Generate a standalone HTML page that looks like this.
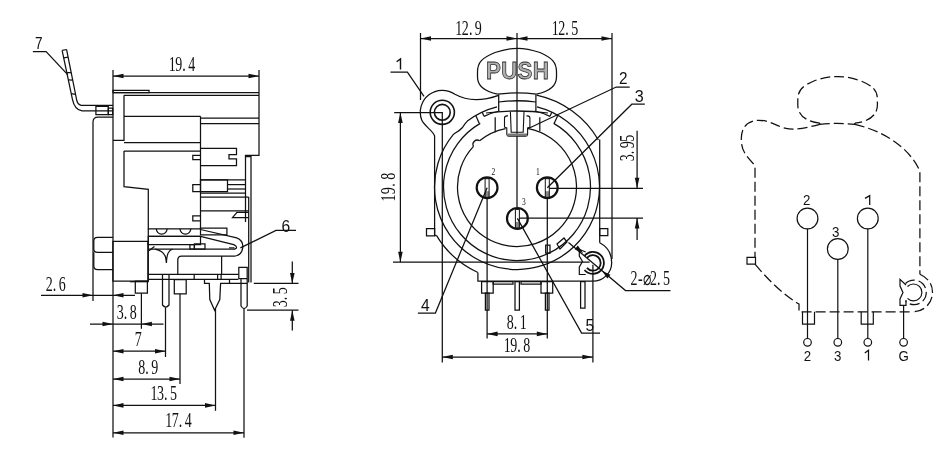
<!DOCTYPE html>
<html><head><meta charset="utf-8"><style>
html,body{margin:0;padding:0;background:#fff;width:942px;height:463px;overflow:hidden}
svg{display:block;will-change:transform}
</style></head><body>
<svg width="942" height="463" viewBox="0 0 942 463">
<rect width="942" height="463" fill="#fff"/>
<g fill="none" stroke="#111" stroke-width="1.25" stroke-linecap="butt" stroke-linejoin="miter">
<path d="M113 70 L113 90"/>
<path d="M259 70 L259 92"/>
<path d="M113 76 L259 76"/>
<path d="M113.00 76.00 L123.50 73.70 L123.50 78.30 Z" fill="#111" stroke="none"/>
<path d="M259.00 76.00 L248.50 78.30 L248.50 73.70 Z" fill="#111" stroke="none"/>
<g transform="translate(169 70.5)">
<text transform="translate(3.25 0) scale(0.7 1)" font-family="Liberation Serif" font-size="20" text-anchor="middle" fill="#111" stroke="none">1</text>
<text transform="translate(9.75 0) scale(0.7 1)" font-family="Liberation Serif" font-size="20" text-anchor="middle" fill="#111" stroke="none">9</text>
<text transform="translate(13.30 0) scale(0.7 1)" font-family="Liberation Serif" font-size="20" text-anchor="start" fill="#111" stroke="none">.</text>
<text transform="translate(22.75 0) scale(0.7 1)" font-family="Liberation Serif" font-size="20" text-anchor="middle" fill="#111" stroke="none">4</text>
</g>
<path d="M62.1 50.4 L72.5 99.6 Q74.5 109.5 82 110.9 H113"/>
<path d="M66.6 49.6 L76.8 100.5 Q77.8 104.5 81.1 105.3 H113"/>
<path d="M62.2 50.3 L66.8 49.5"/>
<path d="M63.66 57.78 L68.13 57.235"/>
<path d="M66.78 72.54 L71.19 72.505"/>
<path d="M68.34 79.92 L72.72 80.14"/>
<path d="M71.252 93.696 L75.576 94.392"/>
<path d="M95.9 106.3 H108.3 V114.6 H95.9 Z"/>
<path d="M108.3 108 H112.7 V114.6 H108.3 Z"/>
<path d="M32.9 51.6 L46.1 51.6 L67.9 74.9"/>
<text transform="translate(35 49) scale(0.85 1)" font-family="Liberation Sans" font-size="16" text-anchor="start" letter-spacing="0" font-weight="normal" fill="#111" stroke="none">7</text>
<path d="M113 90.3 H149 V92.5 H113 Z"/>
<path d="M113 92.5 L259 92.5"/>
<path d="M124 95.3 L259 95.3"/>
<path d="M113 90 L113 437.6"/>
<path d="M259 92 L259 155.3 L245.5 155.3 L245.5 222"/>
<path d="M245.5 156.7 L251 156.7 L251 282.5"/>
<path d="M248.7 197 L248.7 282.5"/>
<path d="M113 117 H98 Q93 117 93 122 V301"/>
<path d="M124 95.3 L124 140.3 L113 140.3"/>
<path d="M124 116.3 L200.5 116.3"/>
<path d="M124 142.5 L200.5 142.5"/>
<path d="M124 151 L200.5 151"/>
<path d="M200.5 116.3 L200.5 229"/>
<path d="M200.5 118 L259 118"/>
<path d="M200.5 123.7 L259 123.7"/>
<path d="M200.5 148.3 L236.5 148.3 L236.5 154.6 L229 154.6 L229 158.8 L236.5 158.8 L236.5 165.6 L200.5 165.6"/>
<path d="M200.5 155.3 L192.8 155.3 L192.8 159.5 L200.5 159.5"/>
<path d="M200.5 184.6 L192.8 184.6 L192.8 191.7 L200.5 191.7"/>
<path d="M200.5 215.9 L192.8 215.9 L192.8 220.8 L200.5 220.8"/>
<path d="M200.5 179.8 L245.5 179.8"/>
<path d="M200.5 179.8 H227.5 V191.6 H200.5 Z"/>
<path d="M227.5 184.6 L245.5 184.6"/>
<path d="M227.5 189 L245.5 189"/>
<path d="M200.5 193.2 L245.5 193.2"/>
<path d="M200.5 197 L248.7 197"/>
<path d="M200.5 210.9 L248.7 210.9"/>
<path d="M248.7 212.4 L237 212.4 L232.5 217.7 L248.7 217.7"/>
<path d="M124 151 L124 186.7 L148.3 189.3 L148.3 228.8 L200.5 228.8"/>
<path d="M156.3 228.8 A5.4 5.4 0 0 0 167.1 228.8"/>
<path d="M180 228.8 A5.4 5.4 0 0 0 190.8 228.8"/>
<path d="M148.3 236.4 L200.5 236.4"/>
<path d="M148.3 228.8 L148.3 281.7"/>
<path d="M113 237.4 H97.5 Q93.8 237.4 93.8 241 V249 Q93.8 252.3 97.5 252.3 H113"/>
<path d="M93.8 252.3 V266 Q93.8 269.6 97.5 269.6 H113"/>
<path d="M112.9 241.4 H147.9 V281.2 H112.9 Z"/>
<path d="M135.3 281.2 H147.4 V293.2 H135.3 Z"/>
<path d="M148.3 236.3 H200.5 V244.6 H148.3 Z"/>
<path d="M189.9 244.6 H194.4 V249.2 H189.9 Z"/>
<path d="M194.4 243.9 H205 V249.2 H194.4 Z"/>
<path d="M149 249.2 L233 249.2"/>
<path d="M200.5 229.5 L236.7 237.8 Q243.5 240.5 242.8 247.7 Q241.5 255.5 235.2 256 H181.5 Q177.8 256 177.8 260 V274.2"/>
<path d="M200.5 236.3 L233.7 244.6 Q237.5 246.5 236.2 248.3 Q235 249.5 233 249.2"/>
<rect x="229" y="247" width="5.5" height="2.5" fill="#555" stroke="none"/>
<path d="M200.5 228 H226.9 V234.8 H200.5 Z"/>
<path d="M155.1 249.2 Q163.5 251 165.5 257 Q166.3 261 166.4 263 Q166.8 255 168.5 252.5 Q170 250 172.5 249.2"/>
<path d="M149 250.8 L154.4 246.5"/>
<path d="M221.6 256 L221.6 274.2"/>
<path d="M148.5 274.4 L238.4 274.4"/>
<path d="M148.5 279.3 L238.4 279.3"/>
<path d="M194.2 274.4 L194.2 279.3"/>
<path d="M217.6 274.4 L217.6 279.3"/>
<path d="M221.1 274.4 L221.1 279.3"/>
<path d="M162.5 274.2 V305 Q165.8 309 169 305 V274.2"/>
<path d="M174.3 279.5 H186.2 V293.8 H174.3 Z"/>
<path d="M204.5 279.3 V283.4 H209.3 L209.8 299.5 L214.6 310.2 L219.8 299.5 L220.6 283.4 H247.3 M229.5 279.3 V283.4"/>
<path d="M238.8 267.4 H247.2 V278.7 H238.8 Z"/>
<path d="M241 278.7 V306 Q244 311 247.2 306 V278.7"/>
<path d="M130 281.7 L148.5 281.7"/>
<path d="M141.4 293.2 L141.4 328.8"/>
<path d="M41 295.3 L135 295.3"/>
<path d="M93.00 295.30 L82.50 297.60 L82.50 293.00 Z" fill="#111" stroke="none"/>
<path d="M113.00 295.30 L123.50 293.00 L123.50 297.60 Z" fill="#111" stroke="none"/>
<g transform="translate(46 291)">
<text transform="translate(3.25 0) scale(0.7 1)" font-family="Liberation Serif" font-size="20" text-anchor="middle" fill="#111" stroke="none">2</text>
<text transform="translate(6.80 0) scale(0.7 1)" font-family="Liberation Serif" font-size="20" text-anchor="start" fill="#111" stroke="none">.</text>
<text transform="translate(16.25 0) scale(0.7 1)" font-family="Liberation Serif" font-size="20" text-anchor="middle" fill="#111" stroke="none">6</text>
</g>
<path d="M90 324 L163.5 324"/>
<path d="M113.00 324.00 L102.50 326.30 L102.50 321.70 Z" fill="#111" stroke="none"/>
<path d="M141.40 324.00 L151.90 321.70 L151.90 326.30 Z" fill="#111" stroke="none"/>
<g transform="translate(117 319)">
<text transform="translate(3.25 0) scale(0.7 1)" font-family="Liberation Serif" font-size="20" text-anchor="middle" fill="#111" stroke="none">3</text>
<text transform="translate(6.80 0) scale(0.7 1)" font-family="Liberation Serif" font-size="20" text-anchor="start" fill="#111" stroke="none">.</text>
<text transform="translate(16.25 0) scale(0.7 1)" font-family="Liberation Serif" font-size="20" text-anchor="middle" fill="#111" stroke="none">8</text>
</g>
<path d="M165.5 307.5 L165.5 357"/>
<path d="M113 351.2 L165.5 351.2"/>
<path d="M113.00 351.20 L123.50 348.90 L123.50 353.50 Z" fill="#111" stroke="none"/>
<path d="M165.50 351.20 L155.00 353.50 L155.00 348.90 Z" fill="#111" stroke="none"/>
<g transform="translate(135 346.2)">
<text transform="translate(3.25 0) scale(0.7 1)" font-family="Liberation Serif" font-size="20" text-anchor="middle" fill="#111" stroke="none">7</text>
</g>
<path d="M180 293.8 L180 384"/>
<path d="M113 379 L180 379"/>
<path d="M113.00 379.00 L123.50 376.70 L123.50 381.30 Z" fill="#111" stroke="none"/>
<path d="M180.00 379.00 L169.50 381.30 L169.50 376.70 Z" fill="#111" stroke="none"/>
<g transform="translate(138.5 374.2)">
<text transform="translate(3.25 0) scale(0.7 1)" font-family="Liberation Serif" font-size="20" text-anchor="middle" fill="#111" stroke="none">8</text>
<text transform="translate(6.80 0) scale(0.7 1)" font-family="Liberation Serif" font-size="20" text-anchor="start" fill="#111" stroke="none">.</text>
<text transform="translate(16.25 0) scale(0.7 1)" font-family="Liberation Serif" font-size="20" text-anchor="middle" fill="#111" stroke="none">9</text>
</g>
<path d="M215.5 309 L215.5 410.8"/>
<path d="M113 405.4 L215.5 405.4"/>
<path d="M113.00 405.40 L123.50 403.10 L123.50 407.70 Z" fill="#111" stroke="none"/>
<path d="M215.50 405.40 L205.00 407.70 L205.00 403.10 Z" fill="#111" stroke="none"/>
<g transform="translate(150.8 400.3)">
<text transform="translate(3.25 0) scale(0.7 1)" font-family="Liberation Serif" font-size="20" text-anchor="middle" fill="#111" stroke="none">1</text>
<text transform="translate(9.75 0) scale(0.7 1)" font-family="Liberation Serif" font-size="20" text-anchor="middle" fill="#111" stroke="none">3</text>
<text transform="translate(13.30 0) scale(0.7 1)" font-family="Liberation Serif" font-size="20" text-anchor="start" fill="#111" stroke="none">.</text>
<text transform="translate(22.75 0) scale(0.7 1)" font-family="Liberation Serif" font-size="20" text-anchor="middle" fill="#111" stroke="none">5</text>
</g>
<path d="M244 309 L244 437.7"/>
<path d="M113 432.8 L244 432.8"/>
<path d="M113.00 432.80 L123.50 430.50 L123.50 435.10 Z" fill="#111" stroke="none"/>
<path d="M244.00 432.80 L233.50 435.10 L233.50 430.50 Z" fill="#111" stroke="none"/>
<g transform="translate(165.4 427.4)">
<text transform="translate(3.25 0) scale(0.7 1)" font-family="Liberation Serif" font-size="20" text-anchor="middle" fill="#111" stroke="none">1</text>
<text transform="translate(9.75 0) scale(0.7 1)" font-family="Liberation Serif" font-size="20" text-anchor="middle" fill="#111" stroke="none">7</text>
<text transform="translate(13.30 0) scale(0.7 1)" font-family="Liberation Serif" font-size="20" text-anchor="start" fill="#111" stroke="none">.</text>
<text transform="translate(22.75 0) scale(0.7 1)" font-family="Liberation Serif" font-size="20" text-anchor="middle" fill="#111" stroke="none">4</text>
</g>
<path d="M253.8 283.4 L298.5 283.4"/>
<path d="M247 310.2 L298.5 310.2"/>
<path d="M292.3 261.5 L292.3 283.4"/>
<path d="M292.30 283.40 L290.00 272.90 L294.60 272.90 Z" fill="#111" stroke="none"/>
<path d="M292.3 310.2 L292.3 330.6"/>
<path d="M292.30 310.20 L294.60 320.70 L290.00 320.70 Z" fill="#111" stroke="none"/>
<g transform="translate(287 307) rotate(-90)">
<text transform="translate(3.25 0) scale(0.7 1)" font-family="Liberation Serif" font-size="20" text-anchor="middle" fill="#111" stroke="none">3</text>
<text transform="translate(6.80 0) scale(0.7 1)" font-family="Liberation Serif" font-size="20" text-anchor="start" fill="#111" stroke="none">.</text>
<text transform="translate(16.25 0) scale(0.7 1)" font-family="Liberation Serif" font-size="20" text-anchor="middle" fill="#111" stroke="none">5</text>
</g>
<path d="M296 230.4 L276 230.4 L240.4 247.9"/>
<text transform="translate(281.5 231.5) scale(0.92 1)" font-family="Liberation Sans" font-size="17" text-anchor="start" letter-spacing="0" font-weight="normal" fill="#111" stroke="none">6</text>
<path d="M420.5 33 L420.5 100"/>
<path d="M517 33 L517 207"/>
<path d="M612 33 L612 259"/>
<path d="M420.5 38.5 L612 38.5"/>
<path d="M420.50 38.50 L431.00 36.20 L431.00 40.80 Z" fill="#111" stroke="none"/>
<path d="M517.00 38.50 L506.50 40.80 L506.50 36.20 Z" fill="#111" stroke="none"/>
<path d="M517.00 38.50 L527.50 36.20 L527.50 40.80 Z" fill="#111" stroke="none"/>
<path d="M612.00 38.50 L601.50 40.80 L601.50 36.20 Z" fill="#111" stroke="none"/>
<g transform="translate(455.6 34.5)">
<text transform="translate(3.25 0) scale(0.7 1)" font-family="Liberation Serif" font-size="20" text-anchor="middle" fill="#111" stroke="none">1</text>
<text transform="translate(9.75 0) scale(0.7 1)" font-family="Liberation Serif" font-size="20" text-anchor="middle" fill="#111" stroke="none">2</text>
<text transform="translate(13.30 0) scale(0.7 1)" font-family="Liberation Serif" font-size="20" text-anchor="start" fill="#111" stroke="none">.</text>
<text transform="translate(22.75 0) scale(0.7 1)" font-family="Liberation Serif" font-size="20" text-anchor="middle" fill="#111" stroke="none">9</text>
</g>
<g transform="translate(552 34.5)">
<text transform="translate(3.25 0) scale(0.7 1)" font-family="Liberation Serif" font-size="20" text-anchor="middle" fill="#111" stroke="none">1</text>
<text transform="translate(9.75 0) scale(0.7 1)" font-family="Liberation Serif" font-size="20" text-anchor="middle" fill="#111" stroke="none">2</text>
<text transform="translate(13.30 0) scale(0.7 1)" font-family="Liberation Serif" font-size="20" text-anchor="start" fill="#111" stroke="none">.</text>
<text transform="translate(22.75 0) scale(0.7 1)" font-family="Liberation Serif" font-size="20" text-anchor="middle" fill="#111" stroke="none">5</text>
</g>
<path d="M497.6 94.2 C487 92 477.5 87 477.5 77 V72 C477.5 62 482 58 495 52.5 C505 49.2 511 48.3 517.6 48.3 C524 48.3 530 49.2 540 52.5 C552 58 556.5 62 556.5 72 V77 C556.5 87 547 92 536.4 94.2"/>
<text transform="translate(486 79) scale(0.95 1)" font-family="Liberation Sans" font-size="23.5" font-weight="bold" fill="#b0b0b0" stroke="#2a2a2a" stroke-width="0.75" letter-spacing="0.3">PUSH</text>
<path d="M498.7 94.5 L498.7 111.2"/>
<path d="M535.9 94.5 L535.9 111.2"/>
<path d="M497.6 94.2 Q517 91.5 536.4 94.2"/>
<path d="M498.7 102 Q517 99.5 535.9 102"/>
<path d="M486 113 Q517 109 548 113"/>
<path d="M434.6 235.7 V136 C433.5 131 424 126 421.63 119.82 A22 22 0 0 1 454.92 94.28 C467 101 481 101.5 498.6 95.3"/>
<circle cx="442.3" cy="112.3" r="7.9" stroke-width="1.6"/>
<circle cx="442.3" cy="112.3" r="12.1" stroke-width="1.6"/>
<path d="M394.2 112.5 L442.3 112.5 L442.3 362.5"/>
<path d="M390.5 72.1 L407.4 72.1 L424 96.3"/>
<path d="M396.6 61.699999999999996 L400.5 58.9 V69.5" stroke-width="1.4"/>
<path d="M536.96 106.95 A82.5 82.5 0 1 1 453.80 133.97"/>
<path d="M453.8 134 Q459.5 131 462.5 127.5 Q464.5 124 467.35 121.11 A82.5 82.5 0 0 1 497.04 106.95"/>
<path d="M536.54 95.05 A94 94 0 0 1 598.41 140.00"/>
<path d="M599.7 139.5 L599.7 242.8"/>
<path d="M553.75 123.35 A73.5 73.5 0 1 1 480.25 123.35"/>
<path d="M484.04 116.31 A78 78 0 0 1 499.45 111.00"/>
<path d="M534.55 111.00 A78 78 0 0 1 549.96 116.31"/>
<path d="M484.036 116.308 L482.134 112.23"/>
<path d="M549.964 116.308 L551.866 112.23"/>
<path d="M475.9 115.7 L479.2 123.2"/>
<path d="M557.9 115.3 L554 123.7"/>
<path d="M528.35 128.59 A59.5 59.5 0 1 1 473.48 146.42"/>
<path d="M479.56 140.76 A59.5 59.5 0 0 1 505.65 128.59"/>
<path d="M495.2 117.2 L495.2 132.2"/>
<path d="M539.8 117.2 L539.8 131.2"/>
<path d="M473.48 146.42 A4.3 4.3 0 0 1 479.56 140.76"/>
<path d="M504.5 127.2 V118 Q504.5 115.9 507 115.9 H508 M526.5 115.9 H527.5 Q529.9 115.9 529.9 118 V127.2" stroke-width="1.1"/>
<path d="M504.5 127.2 L506.8 128 V134.5 Q507 136.3 509 136.3 H525.4 Q527.4 136.3 527.6 134.5 V128 L529.9 127.2" stroke-width="1.1"/>
<path d="M510.4 111.8 L511.2 132.2 H523.2 L524 111.8" stroke-width="1.1"/>
<rect x="507.5" y="133.5" width="19.5" height="2.6" fill="#777" stroke="none"/>
<path d="M426.5 228.5 H434.6 V235.8 H426.5 Z"/>
<path d="M599.7 228.5 H607.8 V235.6 H599.7 Z"/>
<path d="M477.87 272.47 A94 94 0 0 1 436.43 235.41"/>
<path d="M434.6 235.7 L436.43 235.41"/>
<path d="M477.9 272.5 L477.9 281.2 L592.9 281.2"/>
<path d="M599.7 242.8 Q611.7 249 611.7 262.9 A18.8 18.8 0 0 1 592.9 281.2"/>
<path d="M586.9 257.9 A7.8 7.8 0 1 1 586.9 267.9" stroke-width="1.8"/>
<path d="M584.5 255.8 A11 11 0 1 1 584.5 270" stroke-width="1.8"/>
<path d="M585.7 252 L579.3 249.3 V256 L582.5 261.5 L579.3 267 V274.5 H585.7" stroke-width="1.2"/>
<path d="M545.7 245 H550 V253 H545.7 Z"/>
<path d="M557 244 L564 238 L567 242 L560 249 Z"/>
<circle cx="487.1" cy="187.7" r="10.4" stroke-width="2.2"/>
<circle cx="547.3" cy="187.7" r="10.4" stroke-width="2.2"/>
<circle cx="517.4" cy="218.4" r="10.4" stroke-width="2.2"/>
<rect x="485.10" y="191.20" width="4" height="5.5" fill="#888" stroke="none"/>
<path d="M485.1 178.7 H489.1 V197.2 H485.1 Z" stroke-width="1.0"/>
<rect x="545.30" y="191.20" width="4" height="5.5" fill="#888" stroke="none"/>
<path d="M545.3 178.7 H549.3 V197.2 H545.3 Z" stroke-width="1.0"/>
<rect x="515.40" y="221.90" width="4" height="5.5" fill="#888" stroke="none"/>
<path d="M515.4 209.4 H519.4 V227.9 H515.4 Z" stroke-width="1.0"/>
<text transform="translate(491.6 175.2) scale(0.75 1)" font-family="Liberation Serif" font-size="10" text-anchor="start" letter-spacing="0" font-weight="normal" fill="#111" stroke="none">2</text>
<text transform="translate(536 175.2) scale(0.75 1)" font-family="Liberation Serif" font-size="10" text-anchor="start" letter-spacing="0" font-weight="normal" fill="#111" stroke="none">1</text>
<text transform="translate(522 205.3) scale(0.75 1)" font-family="Liberation Serif" font-size="10" text-anchor="start" letter-spacing="0" font-weight="normal" fill="#111" stroke="none">3</text>
<path d="M487.1 198 L487.1 338.5"/>
<path d="M547.3 198 L547.3 338.5"/>
<path d="M549.4 188.3 L643 188.3"/>
<path d="M519.5 218.2 L643 218.2"/>
<path d="M592.9 264.8 L592.9 362.5"/>
<path d="M393 262.2 L589.6 262.2"/>
<path d="M481.6 281.6 H493.2 V293.2 H481.6 Z"/>
<path d="M541 281.6 H552.7 V293.2 H541 Z"/>
<path d="M485.4 293.2 H489 V310 H485.4 Z"/>
<path d="M545.4 293.2 H549 V310 H545.4 Z"/>
<path d="M515 281.6 H519.4 V310 H515 Z"/>
<path d="M580.6 281.6 H585 V308 H580.6 Z"/>
<path d="M493.2 281.6 H513 V284 H493.2 Z"/>
<path d="M521 281.6 H541 V284 H521 Z"/>
<path d="M400.4 112.5 L400.4 262.2"/>
<path d="M400.40 112.50 L402.70 123.00 L398.10 123.00 Z" fill="#111" stroke="none"/>
<path d="M400.40 262.20 L398.10 251.70 L402.70 251.70 Z" fill="#111" stroke="none"/>
<g transform="translate(395.3 201.5) rotate(-90)">
<text transform="translate(3.60 0) scale(0.7 1)" font-family="Liberation Serif" font-size="20" text-anchor="middle" fill="#111" stroke="none">1</text>
<text transform="translate(10.80 0) scale(0.7 1)" font-family="Liberation Serif" font-size="20" text-anchor="middle" fill="#111" stroke="none">9</text>
<text transform="translate(14.70 0) scale(0.7 1)" font-family="Liberation Serif" font-size="20" text-anchor="start" fill="#111" stroke="none">.</text>
<text transform="translate(25.20 0) scale(0.7 1)" font-family="Liberation Serif" font-size="20" text-anchor="middle" fill="#111" stroke="none">8</text>
</g>
<path d="M637.1 130.7 L637.1 188.3"/>
<path d="M637.10 188.30 L634.80 177.80 L639.40 177.80 Z" fill="#111" stroke="none"/>
<path d="M637.1 218.1 L637.1 240"/>
<path d="M637.10 218.10 L639.40 228.60 L634.80 228.60 Z" fill="#111" stroke="none"/>
<g transform="translate(633.5 161) rotate(-90)">
<text transform="translate(3.25 0) scale(0.7 1)" font-family="Liberation Serif" font-size="20" text-anchor="middle" fill="#111" stroke="none">3</text>
<text transform="translate(6.80 0) scale(0.7 1)" font-family="Liberation Serif" font-size="20" text-anchor="start" fill="#111" stroke="none">.</text>
<text transform="translate(16.25 0) scale(0.7 1)" font-family="Liberation Serif" font-size="20" text-anchor="middle" fill="#111" stroke="none">9</text>
<text transform="translate(22.75 0) scale(0.7 1)" font-family="Liberation Serif" font-size="20" text-anchor="middle" fill="#111" stroke="none">5</text>
</g>
<path d="M487.1 333.9 L547.3 333.9"/>
<path d="M487.10 333.90 L497.60 331.60 L497.60 336.20 Z" fill="#111" stroke="none"/>
<path d="M547.30 333.90 L536.80 336.20 L536.80 331.60 Z" fill="#111" stroke="none"/>
<g transform="translate(507 329.3)">
<text transform="translate(3.25 0) scale(0.7 1)" font-family="Liberation Serif" font-size="20" text-anchor="middle" fill="#111" stroke="none">8</text>
<text transform="translate(6.80 0) scale(0.7 1)" font-family="Liberation Serif" font-size="20" text-anchor="start" fill="#111" stroke="none">.</text>
<text transform="translate(16.25 0) scale(0.7 1)" font-family="Liberation Serif" font-size="20" text-anchor="middle" fill="#111" stroke="none">1</text>
</g>
<path d="M442.3 357 L592.9 357"/>
<path d="M442.30 357.00 L452.80 354.70 L452.80 359.30 Z" fill="#111" stroke="none"/>
<path d="M592.90 357.00 L582.40 359.30 L582.40 354.70 Z" fill="#111" stroke="none"/>
<g transform="translate(504 352.4)">
<text transform="translate(3.25 0) scale(0.7 1)" font-family="Liberation Serif" font-size="20" text-anchor="middle" fill="#111" stroke="none">1</text>
<text transform="translate(9.75 0) scale(0.7 1)" font-family="Liberation Serif" font-size="20" text-anchor="middle" fill="#111" stroke="none">9</text>
<text transform="translate(13.30 0) scale(0.7 1)" font-family="Liberation Serif" font-size="20" text-anchor="start" fill="#111" stroke="none">.</text>
<text transform="translate(22.75 0) scale(0.7 1)" font-family="Liberation Serif" font-size="20" text-anchor="middle" fill="#111" stroke="none">8</text>
</g>
<path d="M629.7 87 L616.2 87 L527.3 129"/>
<text transform="translate(619 83.5) scale(0.9 1)" font-family="Liberation Sans" font-size="17" text-anchor="start" letter-spacing="0" font-weight="normal" fill="#111" stroke="none">2</text>
<path d="M644.8 104.2 L631.8 104.2 L547.3 187.7"/>
<text transform="translate(634.8 102.2) scale(0.95 1)" font-family="Liberation Sans" font-size="17" text-anchor="start" letter-spacing="0" font-weight="normal" fill="#111" stroke="none">3</text>
<path d="M417.9 313 L435.4 313 L487.1 187.7"/>
<text transform="translate(421 311) scale(0.92 1)" font-family="Liberation Sans" font-size="17" text-anchor="start" letter-spacing="0" font-weight="normal" fill="#111" stroke="none">4</text>
<path d="M600 333 L581.6 333 L517.4 218.4"/>
<text transform="translate(585.5 330.5) scale(0.92 1)" font-family="Liberation Sans" font-size="17" text-anchor="start" letter-spacing="0" font-weight="normal" fill="#111" stroke="none">5</text>
<path d="M670.5 290.5 L625.5 290.5 L568.5 242.5"/>
<path d="M602.00 270.80 L610.44 274.75 L607.35 278.42 Z" fill="#111" stroke="none"/>
<path d="M583.20 253.20 L574.76 249.25 L577.85 245.58 Z" fill="#111" stroke="none"/>
<g transform="translate(630.7 285.3)">
<text transform="translate(3.25 0) scale(0.7 1)" font-family="Liberation Serif" font-size="20" text-anchor="middle" fill="#111" stroke="none">2</text>
<text transform="translate(9.75 0) scale(0.7 1)" font-family="Liberation Serif" font-size="20" text-anchor="middle" fill="#111" stroke="none">-</text>
<text transform="translate(16.25 0) scale(0.7 1)" font-family="Liberation Serif" font-size="20" text-anchor="middle" fill="#111" stroke="none">⌀</text>
<text transform="translate(22.75 0) scale(0.7 1)" font-family="Liberation Serif" font-size="20" text-anchor="middle" fill="#111" stroke="none">2</text>
<text transform="translate(26.30 0) scale(0.7 1)" font-family="Liberation Serif" font-size="20" text-anchor="start" fill="#111" stroke="none">.</text>
<text transform="translate(35.75 0) scale(0.7 1)" font-family="Liberation Serif" font-size="20" text-anchor="middle" fill="#111" stroke="none">5</text>
</g>
<g stroke-dasharray="10 4" stroke-width="1.25">
<path d="M819.8 123.1 C809 122 797.8 117 797.8 105 V100 C797.8 90 802 86 815 80.5 C825 77.4 831 76.5 837.6 76.5 C844 76.5 850 77.4 860 80.5 C873 86 877.4 90 877.4 100 V105 C877.4 117 866 122 854.8 123.1"/>
<path d="M819.8 123.1 V124.4 C810 127 795 130.5 786 128.4 C778 127 770 120 758 120.3 C745 121 741 130 741.3 140 C741.5 150 745 155 755 165.5 V257.3"/>
<path d="M819.8 124.4 Q837 122.5 854.8 124.4 V123.1"/>
<path d="M854.8 124.4 C880 130 908 145 919.9 171 V274.3"/>
<path d="M755 264.2 C770 282 785 296 799 304 V311.8 H913.7"/>
<path d="M919.9 274.3 Q932.5 280 932.5 292.4 A19.4 19.4 0 0 1 913.7 311.8"/>
<path d="M905.5 283.5 A12.3 12.3 0 1 1 905.5 301.3"/>
</g>
<g stroke-width="1.2">
<path d="M747 257.3 H755.5 V264.2 H747 Z"/>
<circle cx="807.5" cy="218.5" r="10.4"/>
<circle cx="867.8" cy="218.5" r="10.4"/>
<circle cx="837.8" cy="249" r="10.4"/>
<path d="M807.5 228.9 L807.5 338.5"/>
<path d="M867.8 228.9 L867.8 338.5"/>
<path d="M837.8 259.4 L837.8 338.5"/>
<path d="M903.6 305.4 L903.6 338.5"/>
<path d="M802.5 311.8 L802.5 324.2 L814.5 324.2 L814.5 311.8"/>
<path d="M861.2 311.8 L861.2 324.2 L873.3 324.2 L873.3 311.8"/>
<circle cx="807.5" cy="342.3" r="3.8"/>
<circle cx="837.8" cy="342.3" r="3.8"/>
<circle cx="867.8" cy="342.3" r="3.8"/>
<circle cx="903.6" cy="342.3" r="3.8"/>
<path d="M907.5 286.5 A8.4 8.4 0 1 1 907.5 298.3"/>
<path d="M906 285 L900 279.4 V286 L903 292.4 L900 299 V305.4 H906 V300"/>
</g>
<text transform="translate(803 205) scale(0.95 1)" font-family="Liberation Sans" font-size="14" text-anchor="start" letter-spacing="0" font-weight="normal" fill="#111" stroke="none">2</text>
<path d="M865 198.4 L869.6999999999999 195.6 V205" stroke-width="1.25"/>
<text transform="translate(832 236.5) scale(0.95 1)" font-family="Liberation Sans" font-size="14" text-anchor="start" letter-spacing="0" font-weight="normal" fill="#111" stroke="none">3</text>
<text transform="translate(807.5 360.8) scale(0.95 1)" font-family="Liberation Sans" font-size="14" text-anchor="middle" letter-spacing="0" font-weight="normal" fill="#111" stroke="none">2</text>
<text transform="translate(837.8 360.8) scale(0.95 1)" font-family="Liberation Sans" font-size="14" text-anchor="middle" letter-spacing="0" font-weight="normal" fill="#111" stroke="none">3</text>
<text transform="translate(903.6 360.8) scale(0.95 1)" font-family="Liberation Sans" font-size="14" text-anchor="middle" letter-spacing="0" font-weight="normal" fill="#111" stroke="none">G</text>
<path d="M864.8 353.0 L868.5 350.2 V360.5" stroke-width="1.25"/>
</g>
</svg>
</body></html>
